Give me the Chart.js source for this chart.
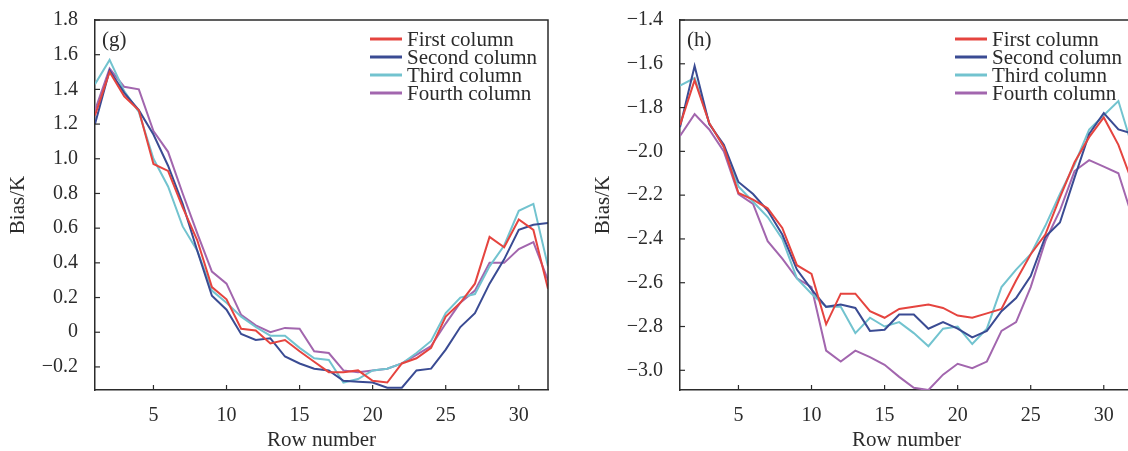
<!DOCTYPE html>
<html>
<head>
<meta charset="utf-8">
<script src="https://cdn.jsdelivr.net/npm/chart.js@4.4.1/dist/chart.umd.min.js"></script>
<style>
    html, body { margin: 0; padding: 0; background: #fff; overflow: hidden; }
    body { width: 1128px; height: 451px; position: relative; }
    canvas { position: absolute; top: 0; }
    #chartG { left: 0; }
    #chartH { left: 575px; }
</style>
</head>
<body>
<canvas id="chartG" width="570" height="451"></canvas>
<canvas id="chartH" width="575" height="451"></canvas>
<script>
const rows = [1, 2, 3, 4, 5, 6, 7, 8, 9, 10, 11, 12, 13, 14, 15, 16,
    17, 18, 19, 20, 21, 22, 23, 24, 25, 26, 27, 28, 29, 30, 31, 32];
const seriesNames = ["First column", "Second column", "Third column", "Fourth column"];
const seriesColors = ["#e5443f", "#3a4b93", "#72c3cf", "#a266ae"];

// panel (g)
const gFirst = [1.25, 1.50, 1.36, 1.28, 0.97, 0.93, 0.72, 0.53, 0.26, 0.19, 0.02, 0.01, -0.065, -0.045, -0.11, -0.17,
    -0.23, -0.23, -0.22, -0.28, -0.29, -0.18, -0.15, -0.09, 0.09, 0.17, 0.28, 0.55, 0.49, 0.65, 0.59, 0.25];
const gSecond = [1.20, 1.51, 1.38, 1.28, 1.14, 0.96, 0.74, 0.47, 0.21, 0.13, -0.01, -0.045, -0.035, -0.14, -0.18, -0.21,
    -0.22, -0.28, -0.285, -0.29, -0.32, -0.32, -0.22, -0.21, -0.10, 0.03, 0.11, 0.28, 0.42, 0.59, 0.62, 0.63];
const gThird = [1.43, 1.57, 1.39, 1.27, 1.00, 0.84, 0.61, 0.47, 0.24, 0.17, 0.09, 0.03, -0.02, -0.02, -0.09, -0.15,
    -0.16, -0.29, -0.27, -0.22, -0.21, -0.18, -0.12, -0.05, 0.11, 0.20, 0.22, 0.38, 0.50, 0.70, 0.74, 0.38];
const gFourth = [1.28, 1.52, 1.415, 1.40, 1.16, 1.04, 0.80, 0.57, 0.35, 0.28, 0.10, 0.04, 0.0, 0.025, 0.02, -0.11,
    -0.12, -0.22, -0.23, -0.22, -0.21, -0.18, -0.13, -0.08, 0.05, 0.17, 0.24, 0.40, 0.40, 0.48, 0.52, 0.30];
const gYTicks = [-0.2, 0, 0.2, 0.4, 0.6, 0.8, 1.0, 1.2, 1.4, 1.6, 1.8];

// panel (h)
const hFirst = [-1.88, -1.675, -1.87, -1.98, -2.19, -2.22, -2.26, -2.35, -2.52, -2.56, -2.79, -2.65, -2.65, -2.73, -2.76, -2.72,
    -2.71, -2.70, -2.715, -2.75, -2.76, -2.74, -2.72, -2.59, -2.47, -2.38, -2.21, -2.05, -1.935, -1.845, -1.97, -2.15];
const hSecond = [-1.89, -1.61, -1.875, -1.97, -2.14, -2.195, -2.27, -2.38, -2.54, -2.63, -2.71, -2.70, -2.715, -2.82, -2.815, -2.745,
    -2.745, -2.81, -2.78, -2.81, -2.85, -2.82, -2.73, -2.67, -2.57, -2.39, -2.325, -2.12, -1.92, -1.825, -1.90, -1.92];
const hThird = [-1.70, -1.665, -1.87, -1.98, -2.16, -2.23, -2.30, -2.40, -2.58, -2.65, -2.71, -2.71, -2.83, -2.76, -2.80, -2.78,
    -2.83, -2.89, -2.81, -2.80, -2.88, -2.81, -2.62, -2.54, -2.47, -2.34, -2.195, -2.06, -1.90, -1.835, -1.77, -1.99];
const hFourth = [-1.93, -1.83, -1.90, -2.00, -2.195, -2.24, -2.41, -2.49, -2.58, -2.62, -2.91, -2.96, -2.91, -2.94, -2.975, -3.03,
    -3.08, -3.09, -3.02, -2.97, -2.99, -2.96, -2.82, -2.78, -2.62, -2.41, -2.27, -2.09, -2.04, -2.07, -2.10, -2.31];
const hYTicks = [-3.0, -2.8, -2.6, -2.4, -2.2, -2.0, -1.8, -1.6, -1.4];

const xTicks = [5, 10, 15, 20, 25, 30];

const FONT = "'Liberation Serif', 'Times New Roman', serif";
const INK = "#2b2b2b";

function fmtTick(v) {
    if (Math.abs(v) < 1e-9) {
        return "0";
    }
    return (v < 0 ? "\u2212" : "") + Math.abs(v).toFixed(1);
}

// frame, inward tick marks, panel letter and legend
const decorPlugin = {
    id: "decor",
    afterDraw(chart, args, opts) {
        const ctx = chart.ctx;
        const a = chart.chartArea;
        ctx.save();
        ctx.strokeStyle = INK;
        ctx.lineWidth = 1.5;
        ctx.beginPath();
        ctx.moveTo(a.left, a.top);
        ctx.lineTo(a.right, a.top);
        ctx.lineTo(a.right, a.bottom);
        ctx.stroke();

        ctx.lineWidth = 1.2;
        const xs = chart.scales.x;
        const ys = chart.scales.y;
        xs.ticks.forEach((t) => {
            const px = xs.getPixelForValue(t.value);
            ctx.beginPath();
            ctx.moveTo(px, a.bottom);
            ctx.lineTo(px, a.bottom - 5);
            ctx.stroke();
        });
        ys.ticks.forEach((t) => {
            const py = ys.getPixelForValue(t.value);
            ctx.beginPath();
            ctx.moveTo(a.left, py);
            ctx.lineTo(a.left + 5, py);
            ctx.stroke();
        });

        ctx.fillStyle = INK;
        ctx.font = "21px " + FONT;
        ctx.textBaseline = "middle";
        ctx.textAlign = "left";
        ctx.fillText(opts.letter, a.left + 7, a.top + 20);

        chart.data.datasets.forEach((ds, i) => {
            const y = a.top + 19 + i * 18;
            const x0 = a.right - 178;
            ctx.strokeStyle = ds.borderColor;
            ctx.lineWidth = 3;
            ctx.beginPath();
            ctx.moveTo(x0, y);
            ctx.lineTo(x0 + 32, y);
            ctx.stroke();
            ctx.fillStyle = INK;
            ctx.fillText(ds.label, x0 + 37, y + 1);
        });
        ctx.restore();
    }
};

function makeChart(id, series, yTicks, yMin, yMax, letter, yAxisWidth, rightPad, titlePad) {
    const ctx = document.getElementById(id).getContext("2d");
    return new Chart(ctx, {
        type: "line",
        data: {
            labels: rows,
            datasets: series.map((s, i) => ({
                label: seriesNames[i],
                data: s.map((v, j) => ({x: rows[j], y: v})),
                borderColor: seriesColors[i],
                backgroundColor: seriesColors[i],
                borderWidth: 2,
                pointRadius: 0,
                tension: 0,
                fill: false,
            })),
        },
        options: {
            responsive: false,
            animation: false,
            events: [],
            layout: {padding: {top: 20, right: rightPad, left: 0, bottom: 0}},
            plugins: {
                legend: {display: false},
                tooltip: {enabled: false},
                decor: {letter: letter},
            },
            scales: {
                x: {
                    type: "linear",
                    min: 1,
                    max: 32,
                    afterBuildTicks: (scale) => {
                        scale.ticks = xTicks.map((v) => ({value: v}));
                    },
                    afterFit: (scale) => {
                        scale.height = 61;
                        scale.paddingLeft = 0;
                        scale.paddingRight = 0;
                    },
                    grid: {display: false, drawTicks: false},
                    border: {display: true, color: INK, width: 1.5},
                    ticks: {
                        color: INK,
                        padding: 14,
                        maxRotation: 0,
                        font: {family: FONT, size: 20},
                        callback: (v) => String(v),
                    },
                    title: {
                        display: true,
                        text: "Row number",
                        color: INK,
                        font: {family: FONT, size: 21, lineHeight: 1},
                        padding: {top: 0, bottom: 0},
                    },
                },
                y: {
                    type: "linear",
                    min: yMin,
                    max: yMax,
                    afterBuildTicks: (scale) => {
                        scale.ticks = yTicks.map((v) => ({value: v}));
                    },
                    afterFit: (scale) => {
                        scale.width = yAxisWidth;
                        scale.paddingTop = 0;
                        scale.paddingBottom = 0;
                    },
                    grid: {display: false, drawTicks: false},
                    border: {display: true, color: INK, width: 1.5},
                    ticks: {
                        color: INK,
                        padding: 17,
                        font: {family: FONT, size: 20},
                        callback: (v) => fmtTick(v),
                    },
                    title: {
                        display: true,
                        text: "Bias/K",
                        color: INK,
                        font: {family: FONT, size: 21, lineHeight: 1},
                        padding: {top: titlePad, bottom: 0},
                    },
                },
            },
        },
        plugins: [decorPlugin],
    });
}

makeChart("chartG", [gFirst, gSecond, gThird, gFourth], gYTicks, -0.333, 1.8, "(g)", 95, 22, 8);
makeChart("chartH", [hFirst, hSecond, hThird, hFourth], hYTicks, -3.09, -1.4, "(h)", 105, 17, 18);
</script>
</body>
</html>
